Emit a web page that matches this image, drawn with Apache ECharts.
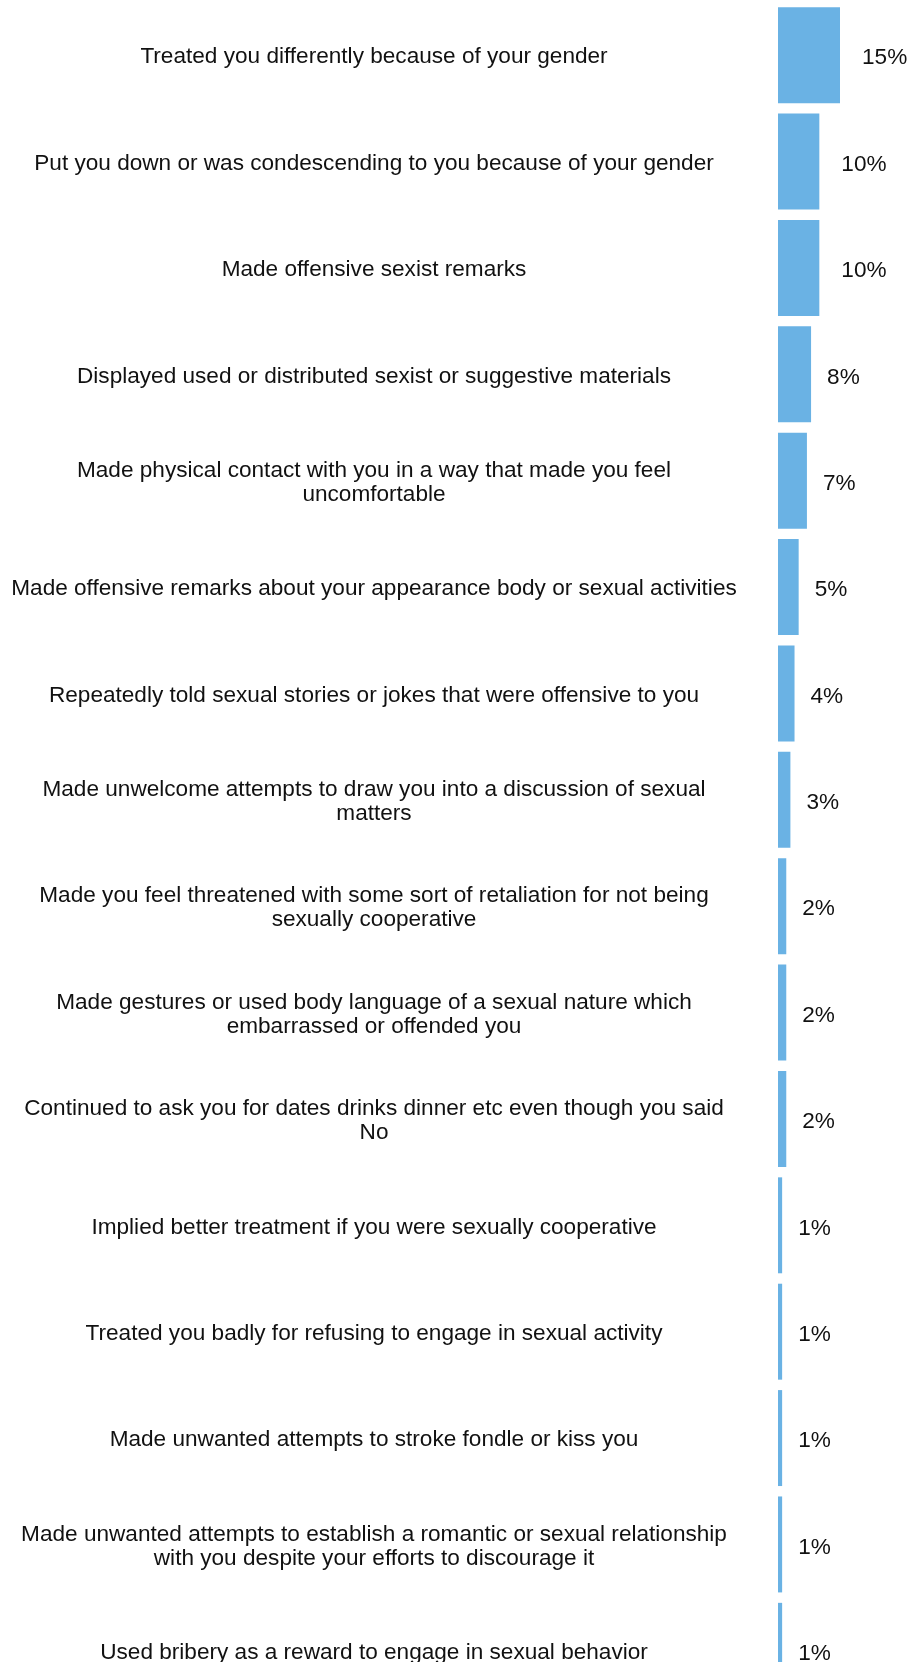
<!DOCTYPE html>
<html>
<head>
<meta charset="utf-8">
<title>Experiences of gender-based mistreatment</title>
<script src="https://cdn.jsdelivr.net/npm/echarts@6/dist/echarts.min.js"></script>
<style>
  html, body { margin: 0; padding: 0; background: #ffffff; }
  #chart { width: 908px; height: 1662px; }
</style>
</head>
<body>
<div id="chart"></div>
<script>
// Survey items, top to bottom
const categories = [
  "Treated you differently because of your gender",
  "Put you down or was condescending to you because of your gender",
  "Made offensive sexist remarks",
  "Displayed used or distributed sexist or suggestive materials",
  "Made physical contact with you in a way that made you feel uncomfortable",
  "Made offensive remarks about your appearance body or sexual activities",
  "Repeatedly told sexual stories or jokes that were offensive to you",
  "Made unwelcome attempts to draw you into a discussion of sexual matters",
  "Made you feel threatened with some sort of retaliation for not being sexually cooperative",
  "Made gestures or used body language of a sexual nature which embarrassed or offended you",
  "Continued to ask you for dates drinks dinner etc even though you said No",
  "Implied better treatment if you were sexually cooperative",
  "Treated you badly for refusing to engage in sexual activity",
  "Made unwanted attempts to stroke fondle or kiss you",
  "Made unwanted attempts to establish a romantic or sexual relationship with you despite your efforts to discourage it",
  "Used bribery as a reward to engage in sexual behavior"
];

// Share of respondents (%)
const percentages = [15, 10, 10, 8, 7, 5, 4, 3, 2, 2, 2, 1, 1, 1, 1, 1];

const TEXT_COLOR = '#111111';
const BAR_COLOR = '#6ab2e4';
const FONT = '"Liberation Sans", Arial, sans-serif';
const FONT_SIZE = 22.6;

// Greedy word wrap at a fixed character width
function wrapLines(text, width) {
  const words = text.split(' ');
  const lines = [];
  let line = '';
  for (const w of words) {
    if (line === '') {
      line = w;
    } else if ((line + ' ' + w).length <= width) {
      line += ' ' + w;
    } else {
      lines.push(line);
      line = w;
    }
  }
  if (line) lines.push(line);
  return lines;
}

const chart = echarts.init(document.getElementById('chart'), null, { renderer: 'canvas' });

chart.setOption({
  animation: false,
  backgroundColor: '#ffffff',
  // The plot runs past the bottom edge; keep the grid at its full size
  grid: { left: 778, top: 2, width: 124, height: 1702, outerBoundsMode: 'none', containLabel: false },
  xAxis: {
    type: 'value',
    min: 0,
    max: 30,
    show: false
  },
  yAxis: {
    type: 'category',
    data: categories,
    inverse: true,
    axisLine: { show: false },
    axisTick: { show: false },
    splitLine: { show: false },
    axisLabel: {
      interval: 0,
      align: 'center',
      margin: 404,
      fontSize: FONT_SIZE,
      fontFamily: FONT,
      color: TEXT_COLOR,
      formatter: function (v) {
        return wrapLines(v, 70).map(function (l) { return '{t|' + l + '}'; }).join('\n');
      },
      rich: {
        // each line sits slightly below the middle of its row
        t: {
          fontSize: FONT_SIZE,
          fontFamily: FONT,
          color: TEXT_COLOR,
          lineHeight: 24,
          padding: [4, 0, 0, 0]
        }
      }
    }
  },
  series: [{
    type: 'bar',
    barCategoryGap: '9.8%',
    itemStyle: { color: BAR_COLOR },
    data: percentages.map(function (v) {
      return { value: v, label: { distance: v >= 10 ? 22 : 16 } };
    }),
    label: {
      show: true,
      position: 'right',
      offset: [0, 3],
      formatter: '{c}%',
      fontSize: FONT_SIZE,
      fontFamily: FONT,
      color: TEXT_COLOR
    }
  }]
});
</script>
</body>
</html>
